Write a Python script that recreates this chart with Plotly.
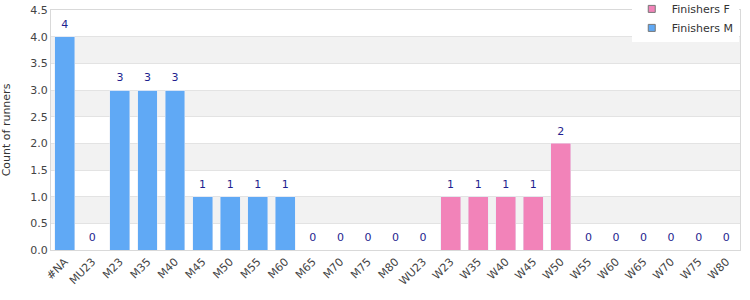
import plotly.graph_objects as go

categories = ["#NA", "MU23", "M23", "M35", "M40", "M45", "M50", "M55", "M60", "M65", "M70", "M75", "M80",
              "WU23", "W23", "W35", "W40", "W45", "W50", "W55", "W60", "W65", "W70", "W75", "W80"]
finishers_m = [4, 0, 3, 3, 3, 1, 1, 1, 1, 0, 0, 0, 0, 0, 0, 0, 0, 0, 0, 0, 0, 0, 0, 0, 0]
finishers_f = [0, 0, 0, 0, 0, 0, 0, 0, 0, 0, 0, 0, 0, 0, 1, 1, 1, 1, 2, 0, 0, 0, 0, 0, 0]
totals = [m + f for m, f in zip(finishers_m, finishers_f)]

BLUE = "#60a9f5"
PINK = "#f283b9"
FONT = "DejaVu Sans"

fig = go.Figure()
fig.add_trace(go.Bar(x=categories, y=finishers_m, marker_color=BLUE, showlegend=False, name="Finishers M"))
fig.add_trace(go.Bar(x=categories, y=finishers_f, marker_color=PINK, showlegend=False, name="Finishers F"))
fig.add_trace(go.Scatter(x=categories, y=totals, mode="markers+text", text=[str(t) for t in totals],
                         marker=dict(size=8, opacity=0),
                         textposition="top center", textfont=dict(color="#1f1f8f", size=11, family=FONT),
                         showlegend=False, cliponaxis=False, hoverinfo="skip"))
# legend entries
fig.add_trace(go.Scatter(x=[None], y=[None], mode="markers", name="Finishers F",
                         marker=dict(symbol="square", size=7, color=PINK, line=dict(color="#777", width=1))))
fig.add_trace(go.Scatter(x=[None], y=[None], mode="markers", name="Finishers M",
                         marker=dict(symbol="square", size=7, color=BLUE, line=dict(color="#777", width=1))))

shapes = []
for lo in [0.5, 1.5, 2.5, 3.5]:
    shapes.append(dict(type="rect", xref="paper", yref="y", x0=0, x1=1, y0=lo, y1=lo + 0.5,
                       fillcolor="#f2f2f2", line=dict(width=0), layer="below"))

fig.update_layout(
    width=750, height=300,
    margin=dict(l=51, r=10, t=10, b=50, autoexpand=False),
    barmode="stack", bargap=0.28,
    plot_bgcolor="white", paper_bgcolor="white",
    font=dict(family=FONT, size=11, color="#444"),
    shapes=shapes,
    legend=dict(xref="container", yref="paper", x=0.985, y=1.065, xanchor="right", yanchor="top",
                bgcolor="white", font=dict(size=11, color="#333", family=FONT), traceorder="normal",
                tracegroupgap=0, itemwidth=30),
    xaxis=dict(type="category", range=[-0.5, len(categories) - 0.5], tickangle=-45, showline=True,
               linecolor="#d9d9d9", mirror=True, tickfont=dict(size=11, color="#444"), ticks="",
               showgrid=False, automargin=False),
    yaxis=dict(range=[0, 4.5], dtick=0.5, tickformat=".1f", showline=True, linecolor="#d9d9d9", mirror=True,
               gridcolor="#e3e3e3", zeroline=False, tickfont=dict(size=11, color="#444"), automargin=False,
               title=dict(text="Count of runners", font=dict(size=11, color="#333"), standoff=18)),
)

fig.write_html("out.html")
